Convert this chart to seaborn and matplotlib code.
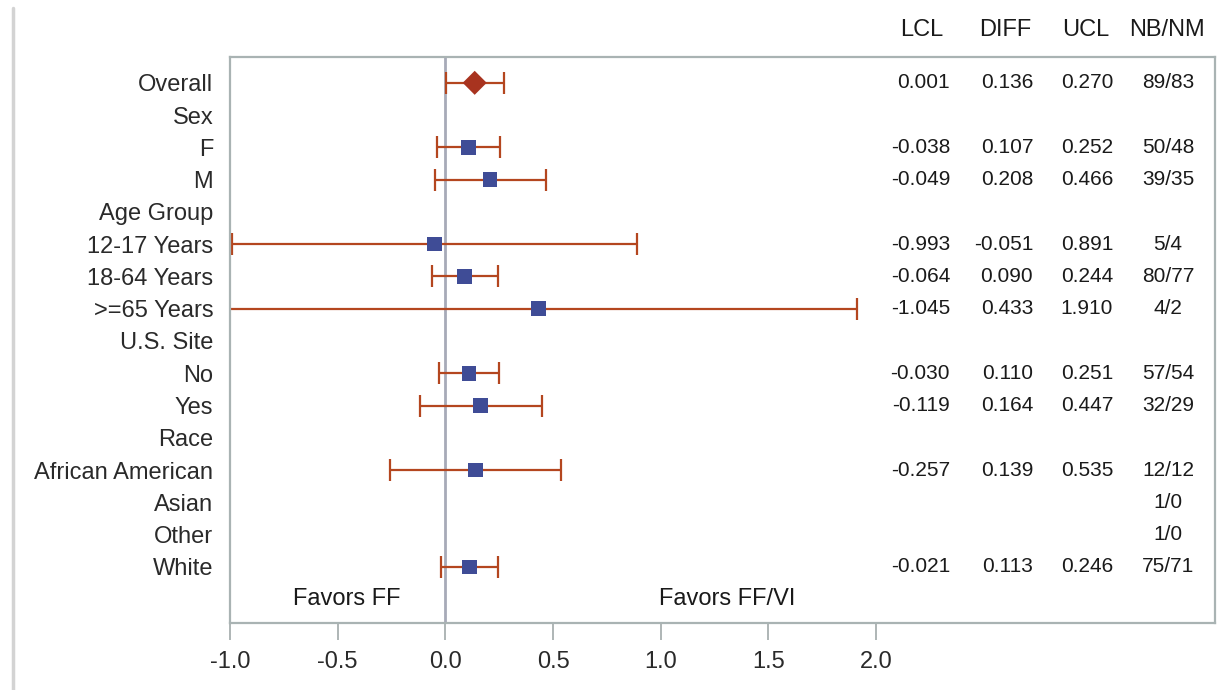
import numpy as np
import pandas as pd
import matplotlib
matplotlib.use("Agg")
import matplotlib.pyplot as plt
import seaborn as sns
from matplotlib.lines import Line2D

labels = ["Overall", "Sex", "F", "M", "Age Group", "12-17 Years", "18-64 Years",
          ">=65 Years", "U.S. Site", "No", "Yes", "Race", "African American",
          "Asian", "Other", "White"]
nan = np.nan
lcl = [0.001, nan, -0.038, -0.049, nan, -0.993, -0.064, -1.045, nan, -0.030, -0.119,
       nan, -0.257, nan, nan, -0.021]
diff = [0.136, nan, 0.107, 0.208, nan, -0.051, 0.090, 0.433, nan, 0.110, 0.164,
        nan, 0.139, nan, nan, 0.113]
ucl = [0.270, nan, 0.252, 0.466, nan, 0.891, 0.244, 1.910, nan, 0.251, 0.447,
       nan, 0.535, nan, nan, 0.246]
nbnm = ["89/83", "", "50/48", "39/35", "", "5/4", "80/77", "4/2", "", "57/54", "32/29",
        "", "12/12", "1/0", "1/0", "75/71"]
kind = ["Overall", "", "Sub", "Sub", "", "Sub", "Sub", "Sub", "", "Sub", "Sub",
        "", "Sub", "", "", "Sub"]
xticks = [-1.0, -0.5, 0.0, 0.5, 1.0, 1.5, 2.0]
headers = ["LCL", "DIFF", "UCL", "NB/NM"]
favors = ["Favors FF", "Favors FF/VI"]

sns.set_style("white")
plt.rcParams["font.family"] = ["Liberation Sans", "DejaVu Sans"]

df = pd.DataFrame({"label": labels, "lcl": lcl, "diff": diff, "ucl": ucl,
                   "nbnm": nbnm, "kind": kind})
df["row"] = np.arange(len(df))

fig = plt.figure(figsize=(12.27, 6.90), dpi=100)
ax = fig.add_axes([230 / 1227, 1 - 623 / 690, (1215 - 230) / 1227, (623 - 57) / 690])

err_color = "#B4461F"
ax.axvline(0, color="#A7AAB8", lw=2, zorder=1)

d = df.dropna(subset=["diff"])
ax.errorbar(d["diff"], d["row"], xerr=[d["diff"] - d["lcl"], d["ucl"] - d["diff"]],
            fmt="none", ecolor=err_color, elinewidth=1.6, capsize=8, capthick=1.6, zorder=2)

sns.scatterplot(data=d[d["kind"] == "Sub"], x="diff", y="row", marker="s", s=110,
                color="#3F4C96", edgecolor="none", ax=ax, zorder=3)
sns.scatterplot(data=d[d["kind"] == "Overall"], x="diff", y="row", marker="D", s=150,
                color="#A8331F", edgecolor="none", ax=ax, zorder=3)

ax.set_xlim(-1.0, 3.573)
ax.set_ylim(16.74, -0.8)
ax.set_xticks(xticks)
ax.set_xticklabels([f"{t:.1f}" for t in xticks], fontsize=17, color="#2a2a2a")
ax.set_yticks(df["row"])
ax.set_yticklabels(labels, fontsize=17, color="#2a2a2a")
ax.tick_params(axis="y", length=0, pad=12)
ax.tick_params(axis="x", length=12, width=1.3, color="#A8B0B0", direction="out", pad=8,
               bottom=True)
ax.set_xlabel("")
ax.set_ylabel("")
for sp in ax.spines.values():
    sp.set_color("#A9B3B3")
    sp.set_linewidth(1.6)

# table
num_x = [2.343, 2.729, 3.100]
head_x = [2.213, 2.599, 2.974, 3.350]
for i, r in df.iterrows():
    if not np.isnan(r["diff"]):
        for xv, val in zip(num_x, [r["lcl"], r["diff"], r["ucl"]]):
            ax.text(xv, r["row"], f"{val:.3f}", ha="right", va="center",
                    fontsize=15, color="#1a1a1a")
    if r["nbnm"]:
        ax.text(3.355, r["row"], r["nbnm"], ha="center", va="center",
                fontsize=15, color="#1a1a1a")
for hx, h in zip(head_x, headers):
    ax.text(hx, -1.64, h, ha="center", va="center", fontsize=17, color="#1a1a1a",
            clip_on=False)

ax.text(-0.46, 16, favors[0], ha="center", va="center", fontsize=17, color="#1a1a1a")
ax.text(1.31, 16, favors[1], ha="center", va="center", fontsize=17, color="#1a1a1a")

fig.add_artist(Line2D([13 / 1227, 13 / 1227], [0, 1 - 8 / 690], transform=fig.transFigure,
                      color="#D3D3D3", lw=2.5))

fig.savefig("out.png", dpi=100)
